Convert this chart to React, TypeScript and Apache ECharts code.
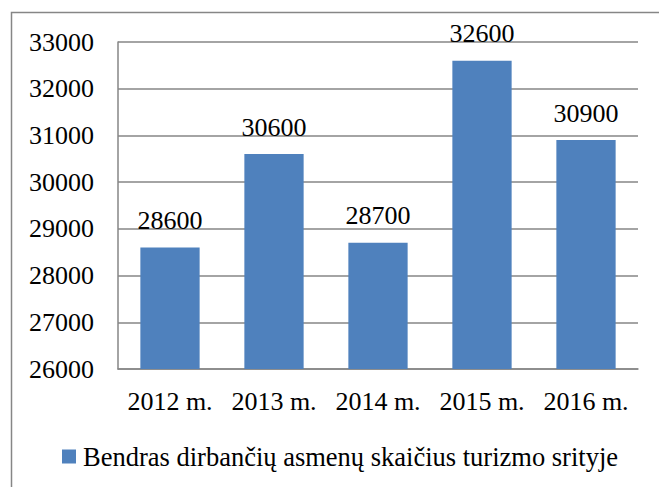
import React, { useEffect, useRef } from "react";
import * as echarts from "echarts";

const categories = ["2012 m.", "2013 m.", "2014 m.", "2015 m.", "2016 m."];
const values = [28600, 30600, 28700, 32600, 30900];
const seriesName = "Bendras dirbančių asmenų skaičius turizmo srityje";
const yMin = 26000;
const yMax = 33000;
const yStep = 1000;

const FONT = "Liberation Serif";
const GRAY = "#868686";

export default function App() {
  const ref = useRef<HTMLDivElement>(null);
  useEffect(() => {
    if (!ref.current) return;
    const chart = echarts.init(ref.current, null, { renderer: "svg" });
    chart.setOption({
      animation: false,
      backgroundColor: "#ffffff",
      textStyle: { fontFamily: FONT },
      graphic: [
        {
          type: "rect",
          shape: { x: 11.5, y: 12.5, width: 700, height: 600 },
          style: { fill: "none", stroke: GRAY, lineWidth: 1.5 },
          silent: true,
        },
      ],
      grid: { left: 118, right: 21, top: 42, height: 327 },
      legend: {
        left: 62,
        top: 443,
        padding: 0,
        itemWidth: 14,
        itemHeight: 14,
        itemGap: 5,
        icon: "rect",
        textStyle: { fontFamily: FONT, fontSize: 26.5, color: "#000", padding: [0, 0, 0, 2] },
        data: [seriesName],
      },
      xAxis: {
        type: "category",
        data: categories,
        axisLine: { show: true, lineStyle: { color: GRAY, width: 1.5 } },
        axisTick: { show: false },
        axisLabel: { interval: 0, margin: 19, fontFamily: FONT, fontSize: 26, color: "#000" },
      },
      yAxis: {
        type: "value",
        min: yMin,
        max: yMax,
        interval: yStep,
        axisLine: { show: true, lineStyle: { color: GRAY, width: 1.5 } },
        axisTick: { show: false },
        splitLine: { show: true, lineStyle: { color: GRAY, width: 1.5 } },
        axisLabel: {
          margin: 24,
          fontFamily: FONT,
          fontSize: 26,
          color: "#000",
          formatter: (v: number) => String(v),
        },
      },
      series: [
        {
          name: seriesName,
          type: "bar",
          data: values,
          barCategoryGap: "43%",
          itemStyle: { color: "#4F81BD" },
          label: {
            show: true,
            position: "top",
            distance: 14,
            fontFamily: FONT,
            fontSize: 26,
            color: "#000",
          },
        },
      ],
    });
    return () => chart.dispose();
  }, []);
  return (
    <div
      ref={ref}
      style={{ position: "fixed", left: 0, top: 0, width: 659, height: 487 }}
    />
  );
}
